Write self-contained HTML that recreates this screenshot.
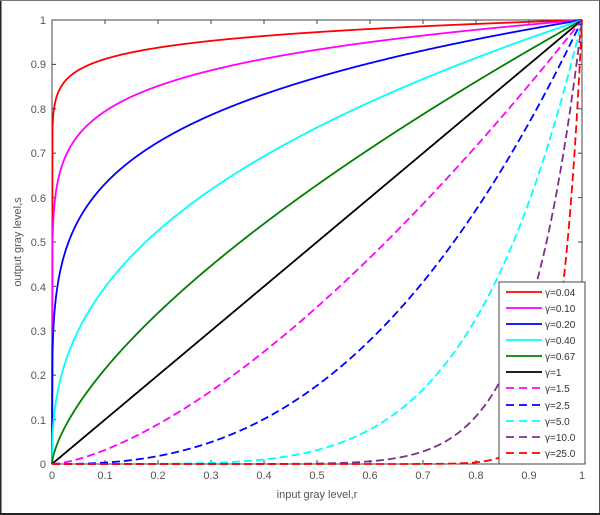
<!DOCTYPE html>
<html><head><meta charset="utf-8">
<style>
html,body{margin:0;padding:0;background:#fff;}
#wrap{position:relative;width:600px;height:515px;overflow:hidden;background:#fff;}
svg{position:absolute;left:0;top:0;}
text{font-family:"Liberation Sans",sans-serif;}
</style></head>
<body><div id="wrap">
<svg id="s" width="600" height="515" viewBox="0 0 600 515" xmlns="http://www.w3.org/2000/svg">
<rect x="0" y="0" width="600" height="515" fill="#fff"/>
<!-- frame -->
<line x1="0.5" y1="0" x2="0.5" y2="515" stroke="#222" stroke-width="2"/>
<line x1="0" y1="0.5" x2="600" y2="0.5" stroke="#777" stroke-width="1"/>
<line x1="599.5" y1="0" x2="599.5" y2="515" stroke="#555" stroke-width="1"/>
<line x1="0" y1="514" x2="600" y2="514" stroke="#222" stroke-width="2"/>
<!-- axes box -->
<rect x="52" y="20" width="530" height="444" fill="none" stroke="#444" stroke-width="1"/>
<g id="ticks" stroke="#444" stroke-width="1"></g>
<g id="curves" fill="none" stroke-width="1.8" stroke-linejoin="round"></g>
<g fill="#555" font-size="11">
<text x="46" y="468" text-anchor="end">0</text>
<text x="46" y="424" text-anchor="end">0.1</text>
<text x="46" y="379" text-anchor="end">0.2</text>
<text x="46" y="335" text-anchor="end">0.3</text>
<text x="46" y="291" text-anchor="end">0.4</text>
<text x="46" y="246" text-anchor="end">0.5</text>
<text x="46" y="202" text-anchor="end">0.6</text>
<text x="46" y="157" text-anchor="end">0.7</text>
<text x="46" y="113" text-anchor="end">0.8</text>
<text x="46" y="68" text-anchor="end">0.9</text>
<text x="46" y="24" text-anchor="end">1</text>
<text x="52" y="479" text-anchor="middle">0</text>
<text x="105" y="479" text-anchor="middle">0.1</text>
<text x="158" y="479" text-anchor="middle">0.2</text>
<text x="211" y="479" text-anchor="middle">0.3</text>
<text x="264" y="479" text-anchor="middle">0.4</text>
<text x="317" y="479" text-anchor="middle">0.5</text>
<text x="370" y="479" text-anchor="middle">0.6</text>
<text x="423" y="479" text-anchor="middle">0.7</text>
<text x="476" y="479" text-anchor="middle">0.8</text>
<text x="529" y="479" text-anchor="middle">0.9</text>
<text x="582" y="479" text-anchor="middle">1</text>
<text x="317" y="498" text-anchor="middle">input gray level,r</text>
<text x="0" y="0" text-anchor="middle" transform="translate(21,242) rotate(-90)">output gray level,s</text>
</g>
<!-- legend -->
<rect x="499" y="282" width="86" height="182" fill="#fff" stroke="#444" stroke-width="1"/>
<g id="leg" stroke-width="1.8"></g>
<g fill="#333" font-size="10">
<text x="545" y="296">γ=0.04</text>
<text x="545" y="312">γ=0.10</text>
<text x="545" y="328">γ=0.20</text>
<text x="545" y="344">γ=0.40</text>
<text x="545" y="360">γ=0.67</text>
<text x="545" y="376">γ=1</text>
<text x="545" y="392">γ=1.5</text>
<text x="545" y="409">γ=2.5</text>
<text x="545" y="425">γ=5.0</text>
<text x="545" y="441">γ=10.0</text>
<text x="545" y="457">γ=25.0</text>
</g>
</svg>
</div>
<script>
(function(){
var NS="http://www.w3.org/2000/svg";
function X(r){return 52+530*r;}
function Y(s){return 464-444*s;}
var series=[
[0.04,"#ff0000",0],[0.10,"#ff00ff",0],[0.20,"#0000ff",0],[0.40,"#00ffff",0],[0.67,"#008000",0],[1,"#000000",0],
[1.5,"#ff00ff",1],[2.5,"#0000ff",1],[5.0,"#00ffff",1],[10.0,"#7e2f8e",1],[25.0,"#ff0000",1]];
var g=document.getElementById("curves");
series.forEach(function(s){
  var g0=s[0],d="";
  var N=1000;
  for(var i=0;i<=N;i++){
    var r=i/N;
    var v=Math.pow(r,g0);
    d+=(i?"L":"M")+X(r).toFixed(2)+" "+Y(v).toFixed(2);
  }
  var p=document.createElementNS(NS,"path");
  p.setAttribute("d",d);p.setAttribute("stroke",s[1]);
  if(s[2]) p.setAttribute("stroke-dasharray","8 4");
  g.appendChild(p);
});
var lg=document.getElementById("leg");
var ys=[292,308,324,340,356,372,388,405,421,437,453];
series.forEach(function(s,i){
  var l=document.createElementNS(NS,"line");
  l.setAttribute("x1",506);l.setAttribute("x2",542);
  l.setAttribute("y1",ys[i]);l.setAttribute("y2",ys[i]);
  l.setAttribute("stroke",s[1]);
  if(s[2]) l.setAttribute("stroke-dasharray","8 5");
  lg.appendChild(l);
});
var tk=document.getElementById("ticks");
function ln(a,b,c,d){var l=document.createElementNS(NS,"line");l.setAttribute("x1",a);l.setAttribute("y1",b);l.setAttribute("x2",c);l.setAttribute("y2",d);tk.appendChild(l);}
for(var i=1;i<10;i++){
  var x=X(i/10), y=Y(i/10);
  ln(x,464,x,460); ln(x,20,x,24);
  ln(52,y,56,y); ln(582,y,578,y);
}
})();
</script>
</body></html>
